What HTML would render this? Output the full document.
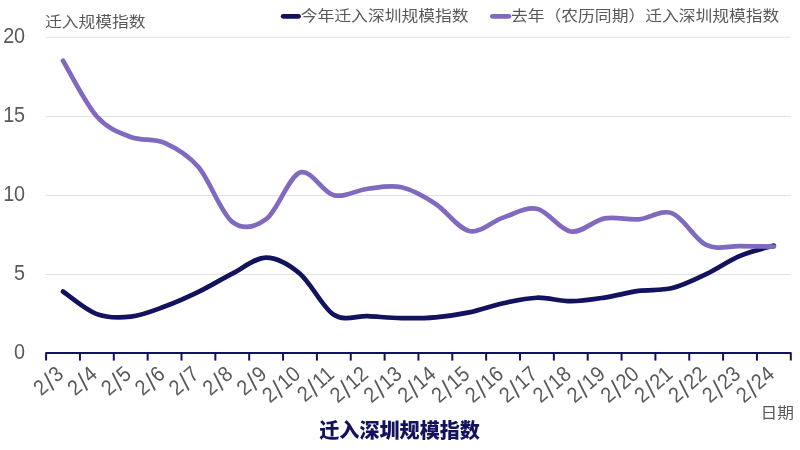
<!DOCTYPE html>
<html lang="zh"><head><meta charset="utf-8"><title>迁入深圳规模指数</title>
<style>
html,body{margin:0;padding:0;background:#fff;}
body{width:800px;height:450px;overflow:hidden;}
svg{display:block;}
text{font-family:"Liberation Sans","Noto Sans CJK SC",sans-serif;font-size:16.7px;fill:#595959;}
.num{font-size:21.6px;}
.sl{font-size:26px;}
.cjk{font-size:15.3px;font-weight:400;}
.title{font-size:20.1px;font-weight:900;fill:#12125e;}
.grid line{stroke:#e1e1e1;stroke-width:1.1;}
.axis line,.axis path{stroke:#12125e;stroke-width:2;fill:none;stroke-linejoin:round;stroke-linecap:butt;}
</style></head><body>
<svg width="800" height="450" viewBox="0 0 800 450">
<rect width="800" height="450" fill="#fff"/>
<g class="grid"><line x1="45.5" x2="790.8" y1="274.50" y2="274.50"/><line x1="45.5" x2="790.8" y1="195.50" y2="195.50"/><line x1="45.5" x2="790.8" y1="116.50" y2="116.50"/><line x1="45.5" x2="790.8" y1="37.30" y2="37.30"/></g>
<g class="ylab"><text class="num" transform="translate(25.1 358.9) scale(0.915 1)" text-anchor="end">0</text><text class="num" transform="translate(25.1 279.9) scale(0.915 1)" text-anchor="end">5</text><text class="num" transform="translate(25.1 200.9) scale(0.915 1)" text-anchor="end">10</text><text class="num" transform="translate(25.1 121.9) scale(0.915 1)" text-anchor="end">15</text><text class="num" transform="translate(25.1 42.9) scale(0.915 1)" text-anchor="end">20</text></g>
<text class="cjk" transform="translate(45.00 27.30) scale(1.097 1)" text-anchor="start">迁入规模指数</text>
<g class="legend">
<line x1="283.1" x2="298.6" y1="16.3" y2="16.3" stroke="#12125e" stroke-width="4.7" stroke-linecap="round"/>
<text class="cjk" transform="translate(300.80 20.50) scale(1.097 1)" text-anchor="start">今年迁入深圳规模指数</text>
<line x1="492.3" x2="508.9" y1="16.3" y2="16.3" stroke="#8169c0" stroke-width="4.7" stroke-linecap="round"/>
<text class="cjk" transform="translate(511.00 20.50) scale(1.097 1)" text-anchor="start">去年（农历同期）迁入深圳规模指数</text>
</g>
<path d="M63.03 291.56 C68.67 295.33 85.59 309.97 96.88 314.16 C108.16 318.35 119.44 317.95 130.72 316.69 C142.01 315.42 153.29 310.71 164.58 306.57 C175.86 302.44 187.14 297.36 198.43 291.88 C209.71 286.40 220.99 279.42 232.28 273.71 C243.56 268.00 254.84 257.59 266.12 257.59 C277.41 257.59 288.69 264.18 299.98 273.71 C311.26 283.24 322.54 307.71 333.83 314.79 C345.11 321.87 356.39 315.66 367.68 316.21 C378.96 316.76 390.24 317.92 401.53 318.11 C412.81 318.29 424.09 318.27 435.38 317.32 C446.66 316.37 457.94 314.76 469.23 312.42 C480.51 310.08 491.79 305.70 503.08 303.26 C514.36 300.81 525.64 298.07 536.93 297.73 C548.21 297.38 559.49 301.23 570.78 301.20 C582.06 301.18 593.34 299.28 604.62 297.57 C615.91 295.86 627.19 292.51 638.48 290.93 C649.76 289.35 661.04 290.88 672.33 288.09 C683.61 285.30 694.89 279.56 706.18 274.18 C717.46 268.81 728.74 260.62 740.03 255.86 C751.31 251.09 768.23 247.30 773.88 245.59" fill="none" stroke="#12125e" stroke-width="4.7" stroke-linecap="round" stroke-linejoin="round"/>
<path d="M63.03 60.73 C68.67 70.02 85.59 103.78 96.88 116.50 C108.16 129.22 119.44 132.64 130.72 137.04 C142.01 141.44 153.29 137.88 164.58 142.89 C175.86 147.89 187.14 153.89 198.43 167.06 C209.71 180.23 220.99 213.20 232.28 221.89 C243.56 230.58 254.84 227.42 266.12 219.20 C277.41 210.98 288.69 176.59 299.98 172.59 C311.26 168.59 322.54 192.50 333.83 195.18 C345.11 197.87 356.39 190.02 367.68 188.71 C378.96 187.39 390.24 184.78 401.53 187.28 C412.81 189.79 424.09 196.42 435.38 203.72 C446.66 211.01 457.94 228.73 469.23 231.05 C480.51 233.37 491.79 221.33 503.08 217.62 C514.36 213.91 525.64 206.45 536.93 208.77 C548.21 211.09 559.49 229.92 570.78 231.52 C582.06 233.13 593.34 220.44 604.62 218.41 C615.91 216.38 627.19 220.20 638.48 219.36 C649.76 218.52 661.04 209.09 672.33 213.35 C683.61 217.62 694.89 239.50 706.18 244.95 C717.46 250.41 728.74 245.80 740.03 246.06 C751.31 246.32 768.23 246.45 773.88 246.53" fill="none" stroke="#8169c0" stroke-width="4.7" stroke-linecap="round" stroke-linejoin="round"/>
<g class="axis"><path d="M46.10 360.6 V353.10 H790.80 V360.6"/><line x1="79.95" x2="79.95" y1="353.10" y2="360.6"/><line x1="113.80" x2="113.80" y1="353.10" y2="360.6"/><line x1="147.65" x2="147.65" y1="353.10" y2="360.6"/><line x1="181.50" x2="181.50" y1="353.10" y2="360.6"/><line x1="215.35" x2="215.35" y1="353.10" y2="360.6"/><line x1="249.20" x2="249.20" y1="353.10" y2="360.6"/><line x1="283.05" x2="283.05" y1="353.10" y2="360.6"/><line x1="316.90" x2="316.90" y1="353.10" y2="360.6"/><line x1="350.75" x2="350.75" y1="353.10" y2="360.6"/><line x1="384.60" x2="384.60" y1="353.10" y2="360.6"/><line x1="418.45" x2="418.45" y1="353.10" y2="360.6"/><line x1="452.30" x2="452.30" y1="353.10" y2="360.6"/><line x1="486.15" x2="486.15" y1="353.10" y2="360.6"/><line x1="520.00" x2="520.00" y1="353.10" y2="360.6"/><line x1="553.85" x2="553.85" y1="353.10" y2="360.6"/><line x1="587.70" x2="587.70" y1="353.10" y2="360.6"/><line x1="621.55" x2="621.55" y1="353.10" y2="360.6"/><line x1="655.40" x2="655.40" y1="353.10" y2="360.6"/><line x1="689.25" x2="689.25" y1="353.10" y2="360.6"/><line x1="723.10" x2="723.10" y1="353.10" y2="360.6"/><line x1="756.95" x2="756.95" y1="353.10" y2="360.6"/></g>
<g class="xlab"><text class="num" transform="translate(64.83 376.0) rotate(-41) scale(0.915 1)" text-anchor="end" x="0" y="0">2<tspan class="sl" dx="1.4" dy="3.2">/</tspan><tspan dx="1.4" dy="-3.2">3</tspan></text><text class="num" transform="translate(98.67 376.0) rotate(-41) scale(0.915 1)" text-anchor="end" x="0" y="0">2<tspan class="sl" dx="1.4" dy="3.2">/</tspan><tspan dx="1.4" dy="-3.2">4</tspan></text><text class="num" transform="translate(132.53 376.0) rotate(-41) scale(0.915 1)" text-anchor="end" x="0" y="0">2<tspan class="sl" dx="1.4" dy="3.2">/</tspan><tspan dx="1.4" dy="-3.2">5</tspan></text><text class="num" transform="translate(166.38 376.0) rotate(-41) scale(0.915 1)" text-anchor="end" x="0" y="0">2<tspan class="sl" dx="1.4" dy="3.2">/</tspan><tspan dx="1.4" dy="-3.2">6</tspan></text><text class="num" transform="translate(200.23 376.0) rotate(-41) scale(0.915 1)" text-anchor="end" x="0" y="0">2<tspan class="sl" dx="1.4" dy="3.2">/</tspan><tspan dx="1.4" dy="-3.2">7</tspan></text><text class="num" transform="translate(234.08 376.0) rotate(-41) scale(0.915 1)" text-anchor="end" x="0" y="0">2<tspan class="sl" dx="1.4" dy="3.2">/</tspan><tspan dx="1.4" dy="-3.2">8</tspan></text><text class="num" transform="translate(267.93 376.0) rotate(-41) scale(0.915 1)" text-anchor="end" x="0" y="0">2<tspan class="sl" dx="1.4" dy="3.2">/</tspan><tspan dx="1.4" dy="-3.2">9</tspan></text><text class="num" transform="translate(301.78 376.0) rotate(-41) scale(0.915 1)" text-anchor="end" x="0" y="0">2<tspan class="sl" dx="1.4" dy="3.2">/</tspan><tspan dx="1.4" dy="-3.2">10</tspan></text><text class="num" transform="translate(335.63 376.0) rotate(-41) scale(0.915 1)" text-anchor="end" x="0" y="0">2<tspan class="sl" dx="1.4" dy="3.2">/</tspan><tspan dx="1.4" dy="-3.2">11</tspan></text><text class="num" transform="translate(369.48 376.0) rotate(-41) scale(0.915 1)" text-anchor="end" x="0" y="0">2<tspan class="sl" dx="1.4" dy="3.2">/</tspan><tspan dx="1.4" dy="-3.2">12</tspan></text><text class="num" transform="translate(403.33 376.0) rotate(-41) scale(0.915 1)" text-anchor="end" x="0" y="0">2<tspan class="sl" dx="1.4" dy="3.2">/</tspan><tspan dx="1.4" dy="-3.2">13</tspan></text><text class="num" transform="translate(437.18 376.0) rotate(-41) scale(0.915 1)" text-anchor="end" x="0" y="0">2<tspan class="sl" dx="1.4" dy="3.2">/</tspan><tspan dx="1.4" dy="-3.2">14</tspan></text><text class="num" transform="translate(471.03 376.0) rotate(-41) scale(0.915 1)" text-anchor="end" x="0" y="0">2<tspan class="sl" dx="1.4" dy="3.2">/</tspan><tspan dx="1.4" dy="-3.2">15</tspan></text><text class="num" transform="translate(504.88 376.0) rotate(-41) scale(0.915 1)" text-anchor="end" x="0" y="0">2<tspan class="sl" dx="1.4" dy="3.2">/</tspan><tspan dx="1.4" dy="-3.2">16</tspan></text><text class="num" transform="translate(538.73 376.0) rotate(-41) scale(0.915 1)" text-anchor="end" x="0" y="0">2<tspan class="sl" dx="1.4" dy="3.2">/</tspan><tspan dx="1.4" dy="-3.2">17</tspan></text><text class="num" transform="translate(572.58 376.0) rotate(-41) scale(0.915 1)" text-anchor="end" x="0" y="0">2<tspan class="sl" dx="1.4" dy="3.2">/</tspan><tspan dx="1.4" dy="-3.2">18</tspan></text><text class="num" transform="translate(606.42 376.0) rotate(-41) scale(0.915 1)" text-anchor="end" x="0" y="0">2<tspan class="sl" dx="1.4" dy="3.2">/</tspan><tspan dx="1.4" dy="-3.2">19</tspan></text><text class="num" transform="translate(640.27 376.0) rotate(-41) scale(0.915 1)" text-anchor="end" x="0" y="0">2<tspan class="sl" dx="1.4" dy="3.2">/</tspan><tspan dx="1.4" dy="-3.2">20</tspan></text><text class="num" transform="translate(674.12 376.0) rotate(-41) scale(0.915 1)" text-anchor="end" x="0" y="0">2<tspan class="sl" dx="1.4" dy="3.2">/</tspan><tspan dx="1.4" dy="-3.2">21</tspan></text><text class="num" transform="translate(707.98 376.0) rotate(-41) scale(0.915 1)" text-anchor="end" x="0" y="0">2<tspan class="sl" dx="1.4" dy="3.2">/</tspan><tspan dx="1.4" dy="-3.2">22</tspan></text><text class="num" transform="translate(741.83 376.0) rotate(-41) scale(0.915 1)" text-anchor="end" x="0" y="0">2<tspan class="sl" dx="1.4" dy="3.2">/</tspan><tspan dx="1.4" dy="-3.2">23</tspan></text><text class="num" transform="translate(775.67 376.0) rotate(-41) scale(0.915 1)" text-anchor="end" x="0" y="0">2<tspan class="sl" dx="1.4" dy="3.2">/</tspan><tspan dx="1.4" dy="-3.2">24</tspan></text></g>
<text class="cjk" transform="translate(760.50 418.20) scale(1.097 1)" text-anchor="start">日期</text>
<text class="title" x="399.6" y="437.6" text-anchor="middle">迁入深圳规模指数</text>
</svg>
</body></html>
